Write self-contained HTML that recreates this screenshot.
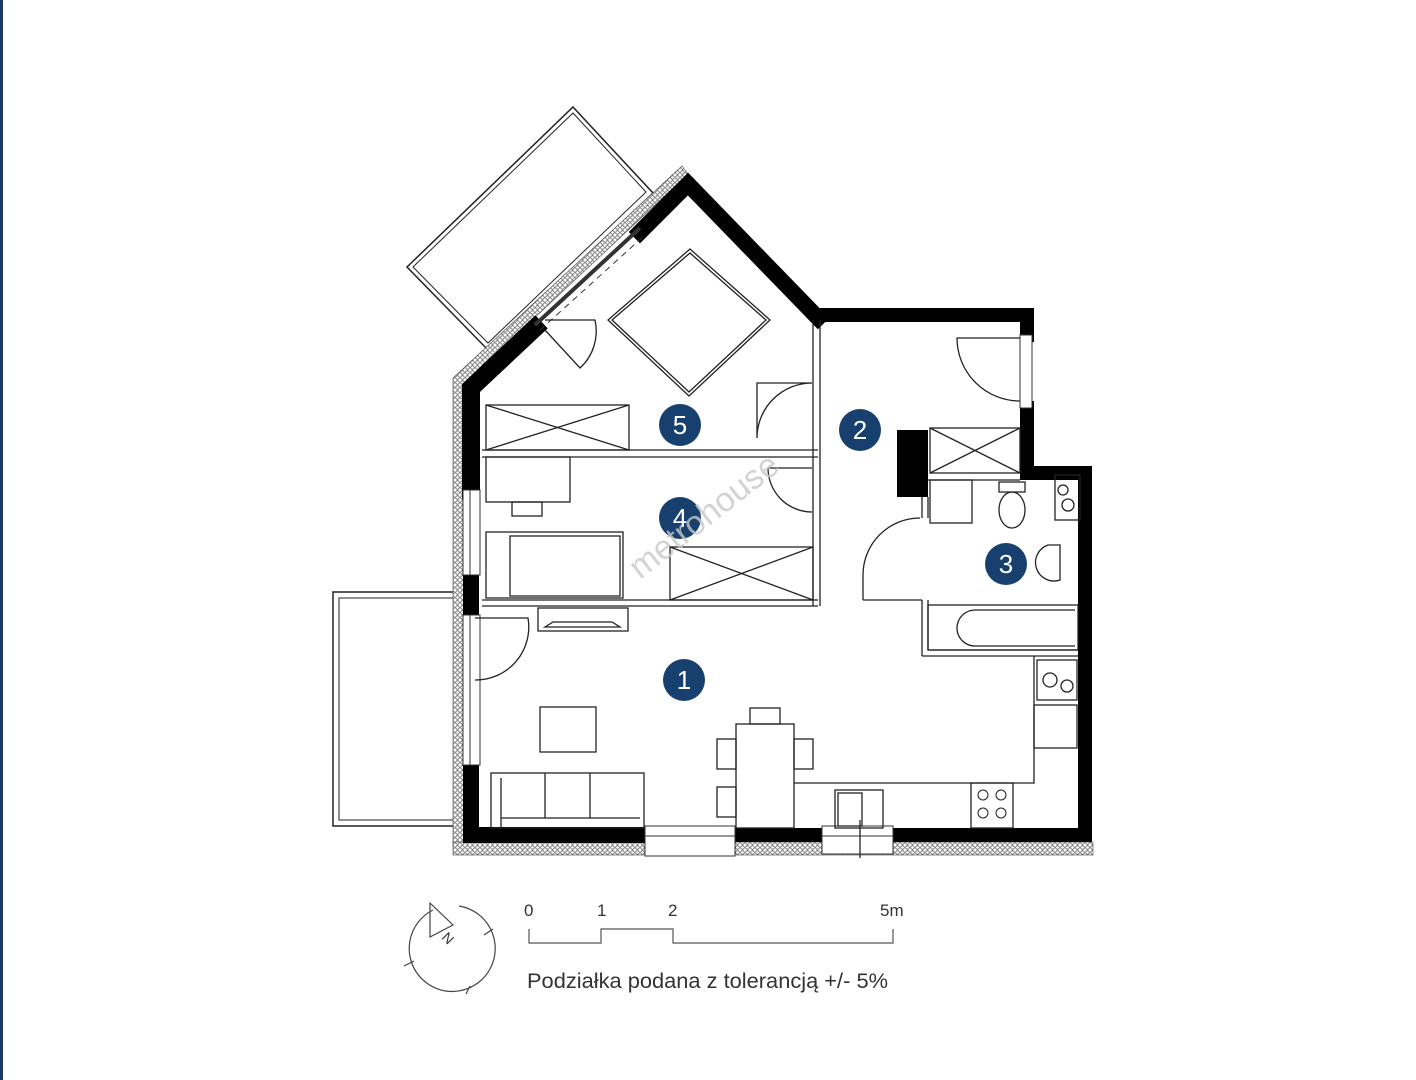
<!DOCTYPE html>
<html><head><meta charset="utf-8"><style>
html,body{margin:0;padding:0;background:#fff;}
svg{display:block;}
text{font-family:"Liberation Sans",sans-serif;}
</style></head><body>
<svg width="1416" height="1080" viewBox="0 0 1416 1080" xmlns="http://www.w3.org/2000/svg">
<defs>
<pattern id="h" width="5" height="5" patternUnits="userSpaceOnUse"><rect width="5" height="5" fill="#fff"/><circle cx="2.5" cy="2.5" r="1.8" fill="none" stroke="#555" stroke-width="0.8"/></pattern>
</defs>
<rect x="0" y="0" width="3" height="1080" fill="#1c3a63"/>
<g fill="none" stroke="#222" stroke-width="1.2">
<polygon points="573,107 653,193 488,350 407,267" stroke-width="1.5"/>
<polygon points="573,113 646,192 488,343 413,267" stroke-width="1"/>
<rect x="333" y="592" width="129" height="234" stroke-width="1.5"/>
<rect x="339" y="598" width="123" height="222" stroke-width="1"/>
</g>
<g fill="url(#h)" stroke="#444" stroke-width="0.6">
<polygon points="682,166 688,174 466,382 466,846 453,846 453,378"/>
<rect x="453" y="842" width="640" height="13"/>
</g>
<g fill="none" stroke="#000" stroke-linecap="square">
<polyline points="818,315 1027,315 1027,335" stroke-width="14"/>
<polyline points="1027,408 1027,473 1085,473 1085,835 893,835" stroke-width="14"/>
<polyline points="822,835 735,835" stroke-width="14"/>
<polyline points="645,835 471,835 471,765" stroke-width="16"/>
<polyline points="471,615 471,575" stroke-width="16"/>
<polyline points="471,490 471,388 535,328" stroke-width="18"/>
<polyline points="640,232 688,184 818,318" stroke-width="16"/>
</g>
<rect x="897" y="430" width="31" height="67" fill="#000"/>
<g fill="#fff" stroke="#333" stroke-width="1">
<rect x="645" y="826" width="90" height="30"/>
<line x1="645" y1="836" x2="735" y2="836"/>
<rect x="822" y="826" width="71" height="28"/>
<line x1="822" y1="836" x2="893" y2="836"/>
<rect x="463" y="490" width="17" height="85"/>
<line x1="470" y1="490" x2="470" y2="575"/>
<rect x="463" y="615" width="17" height="150"/>
<line x1="470" y1="615" x2="470" y2="765"/>
<rect x="1020" y="335" width="12" height="73"/>
</g>
<line x1="535" y1="325" x2="640" y2="228" stroke="#333" stroke-width="4"/>
<line x1="540" y1="330" x2="645" y2="235" stroke="#333" stroke-width="1" stroke-dasharray="6,5"/>
<line x1="650" y1="836" x2="730" y2="836" stroke="#333" stroke-dasharray="5,4" stroke-width="1"/>
<g fill="none" stroke="#222" stroke-width="1.3">
<line x1="482" y1="450" x2="818" y2="450"/><line x1="482" y1="457" x2="818" y2="457"/>
<line x1="482" y1="600" x2="818" y2="600"/><line x1="482" y1="606" x2="818" y2="606"/>
<line x1="813" y1="320" x2="813" y2="606"/><line x1="820" y1="320" x2="820" y2="606"/>
<line x1="922" y1="497" x2="922" y2="518"/><line x1="928" y1="497" x2="928" y2="518"/>
<line x1="922" y1="600" x2="922" y2="656"/><line x1="928" y1="600" x2="928" y2="650"/>
<line x1="922" y1="656" x2="1078" y2="656"/><line x1="928" y1="650" x2="1078" y2="650"/>
<line x1="863" y1="600" x2="922" y2="600"/>
<line x1="928" y1="480" x2="1020" y2="480"/>
<path d="M812,383 L757,383 L757,438 M757,438 A55,55 0 0,1 812,383" />
<path d="M812,468 L768,468 A44,44 0 0,0 812,512"/>
<path d="M1020,338 L957,338 A63,63 0 0,0 1020,401"/>
<path d="M920,518 A57,57 0 0,0 863,575 L863,600"/>
<path d="M475,618 L528,618 A53,53 0 0,1 475,680"/>
<path d="M545,320 L595,320 A50,50 0 0,1 580,368 L545,330"/>
<rect x="486" y="405" width="143" height="45"/><path d="M486,405 L629,450 M486,450 L629,405"/>
<rect x="670" y="547" width="143" height="53"/><path d="M670,547 L813,600 M670,600 L813,547"/>
<rect x="930" y="428" width="90" height="45"/><path d="M930,428 L1020,473 M930,473 L1020,428"/>
<polygon points="690,249 770,320 689,396 608,320"/>
<polygon points="690,253 766,320 689,392 612,320"/>
<rect x="486" y="457" width="84" height="45"/><rect x="512" y="502" width="30" height="14"/>
<rect x="486" y="532" width="137" height="66"/><rect x="510" y="536" width="110" height="60"/>
<rect x="538" y="608" width="90" height="23"/><path d="M545,627 L620,627 L612,622 L553,622 Z"/>
<rect x="540" y="707" width="56" height="45"/>
<rect x="491" y="773" width="153" height="55"/><line x1="501" y1="778" x2="501" y2="828"/><line x1="545" y1="773" x2="545" y2="818"/><line x1="590" y1="773" x2="590" y2="818"/><line x1="501" y1="818" x2="640" y2="818"/>
<rect x="736" y="724" width="58" height="104"/><rect x="750" y="708" width="30" height="16"/>
<rect x="717" y="739" width="19" height="30"/><rect x="794" y="739" width="19" height="30"/><rect x="717" y="787" width="19" height="30"/>
<polyline points="794,783 1034,783 1034,656"/>
<rect x="1034" y="705" width="43" height="43"/>
<rect x="1037" y="660" width="40" height="40"/><circle cx="1050" cy="680" r="7"/><circle cx="1067" cy="686" r="6"/>
<rect x="1055" y="475" width="25" height="45"/><circle cx="1063" cy="490" r="5"/><circle cx="1068" cy="505" r="6"/>
<rect x="930" y="480" width="42" height="43"/>
<rect x="999" y="482" width="26" height="10"/><ellipse cx="1012" cy="510" rx="13" ry="18"/>
<path d="M1060,545 L1048,545 A17,17 0 0,0 1060,580 Z"/>
<rect x="928" y="605" width="150" height="45"/><path d="M1075,610 L975,610 A18,18 0 0,0 975,646 L1075,646"/>
<rect x="835" y="790" width="48" height="38"/><rect x="838" y="793" width="24" height="33"/>
<rect x="971" y="783" width="42" height="45"/>
<g stroke-width="1"><circle cx="983" cy="795" r="5"/><circle cx="1001" cy="795" r="5"/><circle cx="983" cy="813" r="5"/><circle cx="1001" cy="813" r="5"/></g>
<line x1="860" y1="820" x2="860" y2="858"/>
</g>
<g fill="#17406f">
<circle cx="680" cy="425" r="21"/><circle cx="860" cy="430" r="21"/><circle cx="680" cy="518" r="21"/><circle cx="1006" cy="564" r="21"/><circle cx="684" cy="680" r="21"/>
</g>
<g fill="#fff" font-size="26" text-anchor="middle">
<text x="680" y="434">5</text><text x="860" y="439">2</text><text x="680" y="527">4</text><text x="1006" y="573">3</text><text x="684" y="689">1</text>
</g>
<text x="0" y="0" transform="translate(640,580) rotate(-38)" font-size="34" fill="#c8c8c8" fill-opacity="0.8">metrohouse</text>
<g fill="none" stroke="#444" stroke-width="1.2">
<path d="M433,910 A43,43 0 1,0 459,906"/>
<polygon points="430,903 453,925 430,937"/>
<line x1="404" y1="966" x2="414" y2="961"/><line x1="466" y1="994" x2="470" y2="986"/><line x1="484" y1="935" x2="493" y2="929"/>
</g>
<text x="0" y="0" transform="translate(441,938) rotate(45)" font-size="14" fill="#333">N</text>
<polyline points="529,929 529,943 601,943 601,929 673,929 673,943 893,943 893,929" fill="none" stroke="#555" stroke-width="1.2"/>
<g font-size="17" fill="#333">
<text x="524" y="916">0</text><text x="597" y="916">1</text><text x="668" y="916">2</text><text x="880" y="916">5m</text>
</g>
<text x="527" y="988" font-size="21.5" fill="#333" textLength="361" lengthAdjust="spacingAndGlyphs">Podziałka podana z tolerancją +/- 5%</text>
</svg>
</body></html>
